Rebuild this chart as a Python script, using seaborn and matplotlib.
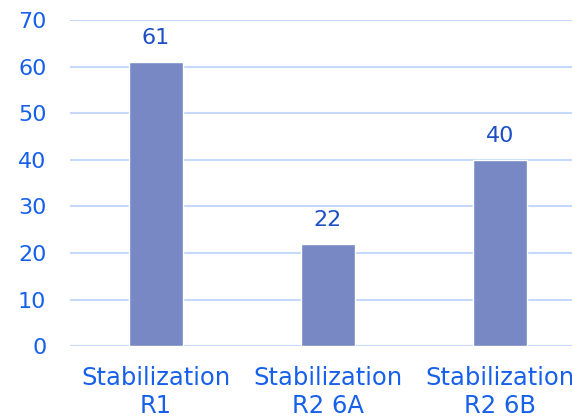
import numpy as np
import pandas as pd
import matplotlib.pyplot as plt
import seaborn as sns

categories = ['Stabilization\nR1', 'Stabilization\nR2 6A', 'Stabilization\nR2 6B']
values = [61, 22, 40]
yticks = [0, 10, 20, 30, 40, 50, 60, 70]

tick_col = '#1660ea'
label_col = '#1d4fc4'
bar_col = '#7788c4'
grid_col = '#c6d9fb'

sns.set_style('white')
plt.rcParams['font.family'] = ['DejaVu Sans']

df = pd.DataFrame({'cat': categories, 'val': values})

fig = plt.figure(figsize=(5.72, 4.19), dpi=100)
ax = fig.add_axes([0.1224, 0.174, 0.902, 0.778])
sns.barplot(data=df, x='cat', y='val', color=bar_col, width=0.31,
            saturation=1, ax=ax, zorder=3)
ax.set_ylim(0, 70)
ax.set_xlim(-0.5, 2.5)
ax.set_yticks(yticks)
ax.yaxis.grid(True, color=grid_col, linewidth=1.5, zorder=0)
ax.set_axisbelow(True)
for s in ax.spines.values():
    s.set_visible(False)
ax.axhline(0, color=grid_col, linewidth=1.5, zorder=1)
ax.tick_params(length=0, labelcolor=tick_col)
ax.tick_params(axis='y', pad=17, labelsize=16)
ax.tick_params(axis='x', pad=14, labelsize=17.5)
ax.set_xlabel('')
ax.set_ylabel('')
for lab in ax.get_xticklabels():
    lab.set_linespacing(1.25)
ax.bar_label(ax.containers[0], padding=10, fontsize=16, color=label_col)

plt.savefig('out.png', dpi=100)
